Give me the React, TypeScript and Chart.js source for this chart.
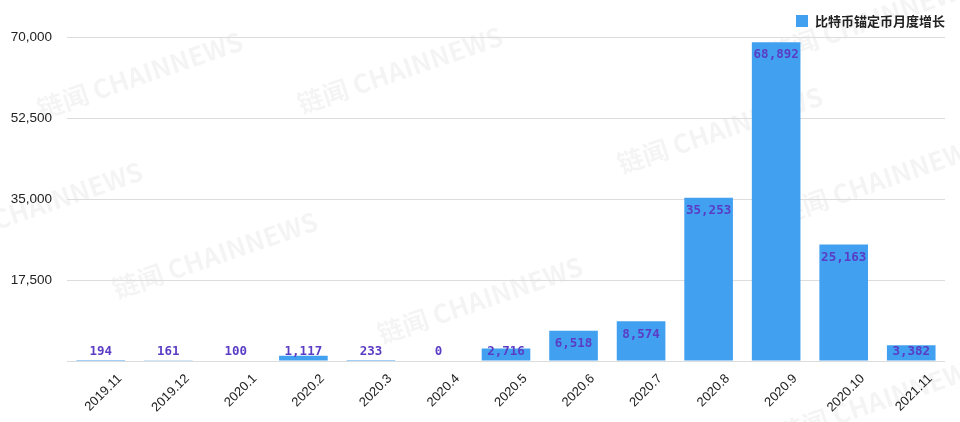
import React, { useEffect, useRef } from "react";
import { Chart, registerables } from "chart.js";

Chart.register(...registerables);

const categories = [
  "2019.11", "2019.12", "2020.1", "2020.2", "2020.3", "2020.4", "2020.5",
  "2020.6", "2020.7", "2020.8", "2020.9", "2020.10", "2021.11",
];
const values = [194, 161, 100, 1117, 233, 0, 2716, 6518, 8574, 35253, 68892, 25163, 3382];
const seriesName = "比特币锚定币月度增长";
const yTicks = [0, 17500, 35000, 52500, 70000];

const BAR_COLOR = "#42a0f0";
const LABEL_COLOR = "#5b3cc4";

const fmt = (v: number) => v.toLocaleString("en-US");

const watermarkPlugin = {
  id: "watermark",
  beforeDraw(chart: any) {
    const ctx = chart.ctx;
    const spots = [
      [140, 75], [400, 70], [720, 130], [215, 255], [480, 300], [40, 205], [880, 180], [880, 400], [870, 20],
    ];
    ctx.save();
    ctx.fillStyle = "rgba(0,0,0,0.045)";
    ctx.font = "bold 26px 'Noto Sans CJK SC', sans-serif";
    ctx.textAlign = "center";
    ctx.textBaseline = "middle";
    spots.forEach(([x, y]) => {
      ctx.save();
      ctx.translate(x, y);
      ctx.rotate(-0.33);
      ctx.fillText("链闻 CHAINNEWS", 0, 0);
      ctx.restore();
    });
    ctx.restore();
  },
};

const valueLabelPlugin = {
  id: "valueLabels",
  afterDatasetsDraw(chart: any) {
    const ctx = chart.ctx;
    const meta = chart.getDatasetMeta(0);
    const base = chart.scales.y.getPixelForValue(0);
    ctx.save();
    ctx.fillStyle = LABEL_COLOR;
    ctx.font = "bold 12.5px 'DejaVu Sans Mono', monospace";
    ctx.textAlign = "center";
    ctx.textBaseline = "middle";
    meta.data.forEach((bar: any, i: number) => {
      const y = Math.min(bar.y + 13, base - 9);
      ctx.fillText(fmt(values[i]), bar.x, y);
    });
    ctx.restore();
  },
};

const legendPlugin = {
  id: "customLegend",
  afterDraw(chart: any) {
    const ctx = chart.ctx;
    ctx.save();
    ctx.font = "bold 13px 'Noto Sans CJK SC', sans-serif";
    ctx.textBaseline = "middle";
    ctx.textAlign = "left";
    const textW = ctx.measureText(seriesName).width;
    const right = 945;
    const tx = right - textW;
    const cy = 21;
    ctx.fillStyle = BAR_COLOR;
    ctx.fillRect(tx - 19, cy - 6, 12, 12);
    ctx.fillStyle = "#222";
    ctx.fillText(seriesName, tx, cy);
    ctx.restore();
  },
};

export default function App() {
  const ref = useRef<HTMLCanvasElement | null>(null);

  useEffect(() => {
    document.body.style.margin = "0";
    if (!ref.current) return;
    const chart = new Chart(ref.current, {
      type: "bar",
      data: {
        labels: categories,
        datasets: [
          {
            label: seriesName,
            data: values,
            backgroundColor: BAR_COLOR,
            borderWidth: 0,
            categoryPercentage: 0.8,
            barPercentage: 0.9,
          },
        ],
      },
      options: {
        animation: false,
        responsive: false,
        maintainAspectRatio: false,
        layout: { padding: { top: 37, right: 15, left: 0, bottom: 0 } },
        plugins: {
          legend: { display: false },
          tooltip: { enabled: false },
        },
        scales: {
          x: {
            grid: { display: false },
            border: { display: false },
            ticks: {
              color: "#222",
              font: { size: 13, family: "'Liberation Sans', Arial, sans-serif" },
              maxRotation: 45,
              minRotation: 45,
              labelOffset: 19,
              padding: 2,
              autoSkip: false,
            },
            afterFit: (s: any) => {
              s.height = 61;
            },
          },
          y: {
            min: 0,
            max: 70000,
            afterBuildTicks: (s: any) => {
              s.ticks = yTicks.map((v) => ({ value: v }));
            },
            grid: { color: "#dcdcdc", lineWidth: 1, drawTicks: false },
            border: { display: false },
            ticks: {
              color: "#222",
              padding: 15,
              font: { size: 13.5, family: "'Liberation Sans', Arial, sans-serif" },
              callback: (v: any) => (Number(v) === 0 ? "" : fmt(Number(v))),
            },
            afterFit: (s: any) => {
              s.width = 67;
            },
          },
        },
      },
      plugins: [watermarkPlugin, valueLabelPlugin, legendPlugin],
    });
    return () => chart.destroy();
  }, []);

  return (
    <div style={{ width: 960, height: 422, background: "#fff" }}>
      <canvas ref={ref} width={960} height={422} style={{ display: "block" }} />
    </div>
  );
}
